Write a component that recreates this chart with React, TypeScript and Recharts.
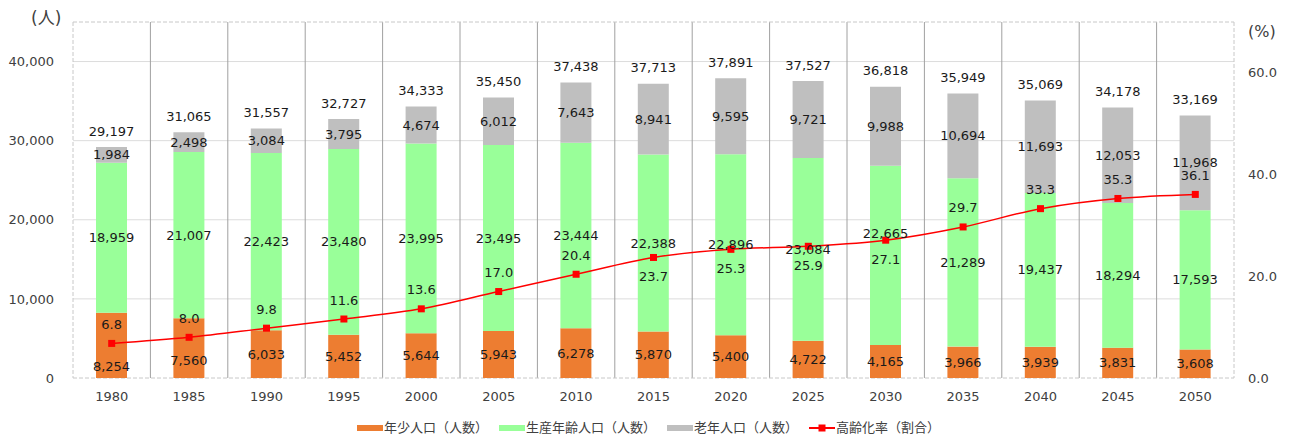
import React from 'react';
import {
  ComposedChart,
  Bar,
  Line,
  XAxis,
  YAxis,
  CartesianGrid,
  LabelList,
  Legend,
} from 'recharts';

// ---- data ----
const years = ['1980', '1985', '1990', '1995', '2000', '2005', '2010', '2015', '2020', '2025', '2030', '2035', '2040', '2045', '2050'];
const youngPop = [8254, 7560, 6033, 5452, 5644, 5943, 6278, 5870, 5400, 4722, 4165, 3966, 3939, 3831, 3608];
const workingPop = [18959, 21007, 22423, 23480, 23995, 23495, 23444, 22388, 22896, 23084, 22665, 21289, 19437, 18294, 17593];
const elderlyPop = [1984, 2498, 3084, 3795, 4674, 6012, 7643, 8941, 9595, 9721, 9988, 10694, 11693, 12053, 11968];
const totalPop = [29197, 31065, 31557, 32727, 34333, 35450, 37438, 37713, 37891, 37527, 36818, 35949, 35069, 34178, 33169];
const agingRate = [6.8, 8.0, 9.8, 11.6, 13.6, 17.0, 20.4, 23.7, 25.3, 25.9, 27.1, 29.7, 33.3, 35.3, 36.1];

const leftTicks = [0, 10000, 20000, 30000, 40000];
const rightTicks = [0, 20, 40, 60];

const seriesNames = {
  young: '年少人口（人数）',
  working: '生産年齢人口（人数）',
  elderly: '老年人口（人数）',
  rate: '高齢化率（割合）',
};

const data = years.map((y, i) => ({
  year: y,
  young: youngPop[i],
  working: workingPop[i],
  elderly: elderlyPop[i],
  total: totalPop[i],
  rate: agingRate[i],
}));

// ---- styles ----
const FONT = "'DejaVu Sans', 'Noto Sans CJK JP', sans-serif";
const COLORS = { young: '#ED7D31', working: '#99FF99', elderly: '#BFBFBF', rate: '#FF0000' };
const LABEL_FILL = '#1a1a1a';
const AXIS_FILL = '#404040';

// label nudges (pixels) to avoid overlaps, as in the original
const youngNudge: Record<number, number> = { 0: 21, 1: 12 };
const workingNudge: Record<number, number> = { 10: -22 };
const rateBelow = new Set([7, 8, 9, 10]);

const fmt = (v: number) => Number(v).toLocaleString('en-US');

const makeSegLabel = (nudge: Record<number, number>) => (props: any) => {
  const { x, y, width, height, value, index } = props;
  const dy = nudge[index] ?? 0;
  return (
    <text
      x={Number(x) + Number(width) / 2}
      y={Number(y) + Number(height) / 2 + dy}
      textAnchor="middle"
      dominantBaseline="central"
      fontSize={13}
      fill={LABEL_FILL}
      fontFamily={FONT}
    >
      {fmt(value)}
    </text>
  );
};

const TotalLabel = (props: any) => {
  const { x, y, width, index } = props;
  return (
    <text
      x={Number(x) + Number(width) / 2}
      y={Number(y) - 16}
      textAnchor="middle"
      dominantBaseline="central"
      fontSize={13}
      fill={LABEL_FILL}
      fontFamily={FONT}
    >
      {fmt(totalPop[index])}
    </text>
  );
};

const RateLabel = (props: any) => {
  const { x, y, value, index } = props;
  const dy = rateBelow.has(index) ? 19 : -19;
  return (
    <text
      x={Number(x)}
      y={Number(y) + dy}
      textAnchor="middle"
      dominantBaseline="central"
      fontSize={13}
      fill={LABEL_FILL}
      fontFamily={FONT}
    >
      {Number(value).toFixed(1)}
    </text>
  );
};

const SquareDot = (props: any) => {
  const { cx, cy, index } = props;
  if (cx == null || cy == null) return <g key={`d${index}`} />;
  return <rect key={`d${index}`} x={cx - 3.5} y={cy - 3.5} width={7} height={7} fill={COLORS.rate} />;
};

const LeftUnit = (props: any) => {
  const vb = props.viewBox || { x: 13, y: 22, width: 60, height: 356 };
  return (
    <text
      x={vb.x + vb.width - 42}
      y={vb.y - 4}
      textAnchor="start"
      dominantBaseline="central"
      fontSize={17}
      fill={AXIS_FILL}
      fontFamily={FONT}
    >
      (人)
    </text>
  );
};

const RightUnit = (props: any) => {
  const vb = props.viewBox || { x: 1234, y: 22, width: 50, height: 356 };
  return (
    <text
      x={vb.x + 14}
      y={vb.y + 9}
      textAnchor="start"
      dominantBaseline="central"
      fontSize={16}
      fill={AXIS_FILL}
      fontFamily={FONT}
    >
      (%)
    </text>
  );
};

const LegendContent = () => {
  const items = [
    { key: 'young', label: seriesNames.young, color: COLORS.young, line: false },
    { key: 'working', label: seriesNames.working, color: COLORS.working, line: false },
    { key: 'elderly', label: seriesNames.elderly, color: COLORS.elderly, line: false },
    { key: 'rate', label: seriesNames.rate, color: COLORS.rate, line: true },
  ];
  return (
    <div
      style={{
        display: 'flex',
        justifyContent: 'center',
        alignItems: 'center',
        height: 16,
        lineHeight: '16px',
        fontSize: 13,
        fontFamily: FONT,
        color: AXIS_FILL,
        whiteSpace: 'nowrap',
      }}
    >
      {items.map((it, i) => (
        <div key={it.key} style={{ display: 'flex', alignItems: 'center', marginLeft: i === 0 ? 0 : 11 }}>
          <svg width={26} height={10} style={{ marginRight: 1 }}>
            {it.line ? (
              <>
                <line x1={0} y1={5} x2={26} y2={5} stroke={it.color} strokeWidth={2} />
                <rect x={9.5} y={1.5} width={7} height={7} fill={it.color} />
              </>
            ) : (
              <rect x={0} y={2} width={26} height={6} fill={it.color} />
            )}
          </svg>
          <span>{it.label}</span>
        </div>
      ))}
    </div>
  );
};

const BORDER = '#c8c8c8';

export default function App() {
  return (
    <div style={{ position: 'absolute', left: 0, top: 0, width: 1292, height: 436, fontFamily: FONT }}>
      <ComposedChart
        width={1292}
        height={436}
        data={data}
        margin={{ top: 22, right: 8, bottom: 0, left: 13 }}
        barCategoryGap={0}
        style={{ fontFamily: FONT }}
      >
        <CartesianGrid
          vertical={false}
          stroke="#dcdcdc"
          horizontalCoordinatesGenerator={({ offset }: any) =>
            leftTicks
              .filter((t) => t > 0)
              .map((t) => offset.top + offset.height * (1 - t / 45000))
          }
        />
        <CartesianGrid
          horizontal={false}
          stroke="#a0a0a0"
          verticalCoordinatesGenerator={({ offset }: any) =>
            years.slice(1).map((_, i) => offset.left + ((i + 1) * offset.width) / years.length)
          }
        />
        <CartesianGrid
          stroke={BORDER}
          strokeDasharray="4 2"
          horizontalCoordinatesGenerator={({ offset }: any) => [offset.top, offset.top + offset.height]}
          verticalCoordinatesGenerator={({ offset }: any) => [offset.left, offset.left + offset.width]}
        />
        <XAxis
          dataKey="year"
          height={42}
          tickLine={false}
          axisLine={false}
          tickMargin={8}
          tick={{ fontSize: 13, fill: AXIS_FILL, fontFamily: FONT }}
          interval={0}
        />
        <YAxis
          yAxisId="left"
          width={60}
          domain={[0, 45000]}
          ticks={leftTicks}
          tickFormatter={(v: number) => fmt(v)}
          tickLine={false}
          axisLine={false}
          tickMargin={13}
          tick={{ fontSize: 13, fill: AXIS_FILL, fontFamily: FONT }}
          allowDataOverflow
          label={<LeftUnit />}
        />
        <YAxis
          yAxisId="right"
          orientation="right"
          width={50}
          domain={[0, 70]}
          ticks={rightTicks}
          tickFormatter={(v: number) => Number(v).toFixed(1)}
          tickLine={false}
          axisLine={false}
          tickMargin={8}
          tick={{ fontSize: 13, fill: AXIS_FILL, fontFamily: FONT }}
          allowDataOverflow
          label={<RightUnit />}
        />
        <Legend verticalAlign="bottom" content={() => <LegendContent />} />
        <Bar yAxisId="left" dataKey="young" name={seriesNames.young} stackId="pop" fill={COLORS.young} barSize={31} isAnimationActive={false}>
          <LabelList dataKey="young" content={makeSegLabel(youngNudge)} />
        </Bar>
        <Bar yAxisId="left" dataKey="working" name={seriesNames.working} stackId="pop" fill={COLORS.working} barSize={31} isAnimationActive={false}>
          <LabelList dataKey="working" content={makeSegLabel(workingNudge)} />
        </Bar>
        <Bar yAxisId="left" dataKey="elderly" name={seriesNames.elderly} stackId="pop" fill={COLORS.elderly} barSize={31} isAnimationActive={false}>
          <LabelList dataKey="elderly" content={makeSegLabel({})} />
          <LabelList dataKey="total" content={TotalLabel} />
        </Bar>
        <Line
          yAxisId="right"
          type="monotone"
          dataKey="rate"
          name={seriesNames.rate}
          stroke={COLORS.rate}
          strokeWidth={1.5}
          dot={SquareDot}
          activeDot={false}
          isAnimationActive={false}
        >
          <LabelList dataKey="rate" content={RateLabel} />
        </Line>
      </ComposedChart>
    </div>
  );
}
